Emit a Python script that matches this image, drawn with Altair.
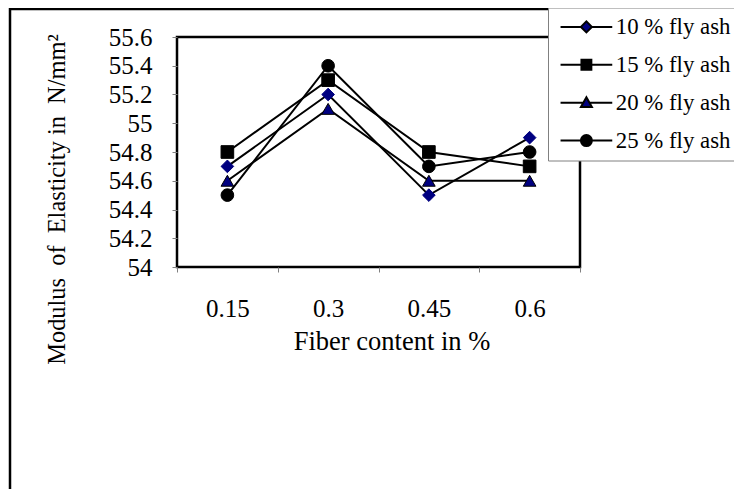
import altair as alt
import pandas as pd

# ---- data ----
fiber = ["0.15", "0.3", "0.45", "0.6"]
series_names = ["10 % fly ash", "15 % fly ash", "20 % fly ash", "25 % fly ash"]
fa10 = [54.7, 55.2, 54.5, 54.9]
fa15 = [54.8, 55.3, 54.8, 54.7]
fa20 = [54.6, 55.1, 54.6, 54.6]
fa25 = [54.5, 55.4, 54.7, 54.8]
y_ticks = [54, 54.2, 54.4, 54.6, 54.8, 55, 55.2, 55.4, 55.6]

rows = []
for name, vals in zip(series_names, [fa10, fa15, fa20, fa25]):
    for f, v in zip(fiber, vals):
        rows.append({"fiber": f, "value": v, "series": name})
df = pd.DataFrame(rows)

NAVY = "#000080"
FONT = "Liberation Serif"
fills = [NAVY, "black", NAVY, "black"]
strokes = [NAVY, "black", "black", "black"]
legend_strokes = ["black", "black", "black", "black"]
shapes = ["diamond", "square", "triangle-up", "circle"]
legend_paths = [
    "M-4.7,0H-1M1,0H4.7M-1,0L0,-1L1,0L0,1Z",
    "M-4.7,0H-0.9M0.9,0H4.7M-0.9,-0.9H0.9V0.9H-0.9Z",
    "M-4.7,0H-0.5M0.5,0H4.7M0,-1L1,0.8L-1,0.8Z",
    "M-4.7,0H-1M1,0H4.7M-1,0A1,1,0,1,1,1,0A1,1,0,1,1,-1,0Z",
]

x_enc = alt.X(
    "fiber:O",
    sort=fiber,
    bandPosition=0.5,
    scale=alt.Scale(type="band", domain=fiber, paddingInner=0, paddingOuter=0),
    axis=alt.Axis(
        title="Fiber content in %",
        tickBand="extent",
        labelAngle=0,
        labelFontSize=25,
        labelPadding=24,
        titleFontSize=26.5,
        titleX=214.5,
        titleY=82,
        titleBaseline="alphabetic",
    ),
)
y_enc = alt.Y(
    "value:Q",
    scale=alt.Scale(domain=[54, 55.6], nice=False, zero=False),
    axis=alt.Axis(
        title="Modulus\u00a0 of\u00a0 Elasticity in\u00a0 N/mm²",
        values=y_ticks,
        format=".1~f",
        labelFontSize=25,
        labelPadding=20,
        titleFontSize=24.4,
        titleX=-113,
        titleY=162,
        titleBaseline="alphabetic",
    ),
)

frame = alt.Chart(pd.DataFrame({"k": [0]})).mark_rect(
    fill="transparent", stroke="black", strokeWidth=2.5
).encode(
    x=alt.value(-167), x2=alt.value(900), y=alt.value(-28), y2=alt.value(900)
)

lines = alt.Chart(df).mark_line(color="black", strokeWidth=2).encode(
    x=x_enc, y=y_enc, detail="series:N"
)

points = alt.Chart(df).mark_point(filled=True, size=160, strokeWidth=1, opacity=1).encode(
    x=x_enc,
    y=y_enc,
    shape=alt.Shape("series:N", scale=alt.Scale(domain=series_names, range=shapes), legend=None),
    fill=alt.Fill("series:N", scale=alt.Scale(domain=series_names, range=fills), legend=None),
    stroke=alt.Stroke("series:N", scale=alt.Scale(domain=series_names, range=strokes), legend=None),
)

leg = alt.Legend(
    title=None,
    orient="none",
    legendX=371,
    legendY=-29.5,
    padding=8,
    symbolOffset=19,
    labelOffset=18,
    labelLimit=400,
    rowPadding=13.9,
    symbolSize=121,
    symbolStrokeWidth=2,
    symbolOpacity=1,
    labelFont=FONT,
    labelFontSize=22.8,
    labelColor="black",
    strokeColor="#808080",
    fillColor="white",
)

legend_pts = alt.Chart(df).mark_point(
    filled=True, opacity=0, size=121, strokeWidth=2
).encode(
    x=x_enc,
    y=y_enc,
    shape=alt.Shape("series:N", scale=alt.Scale(domain=series_names, range=legend_paths), legend=leg),
    fill=alt.Fill("series:N", scale=alt.Scale(domain=series_names, range=fills), legend=leg),
    stroke=alt.Stroke("series:N", scale=alt.Scale(domain=series_names, range=legend_strokes), legend=leg),
)

chart = (
    alt.layer(frame, lines, points, legend_pts)
    .resolve_scale(shape="independent", fill="independent", stroke="independent")
    .properties(
        width=403,
        height=230,
        autosize=alt.AutoSizeParams(type="none"),
        padding={"left": 169, "top": 29, "right": 154, "bottom": 222},
    )
    .configure(font=FONT)
    .configure_view(stroke="black", strokeWidth=2.5)
    .configure_axis(
        labelFont=FONT,
        titleFont=FONT,
        labelColor="black",
        titleColor="black",
        titleFontWeight="normal",
        grid=False,
        domain=False,
        tickColor="#808080",
        tickSize=5,
        tickWidth=1,
    )
)

chart.save("out.html", embed_options={"renderer": "svg", "actions": False})
